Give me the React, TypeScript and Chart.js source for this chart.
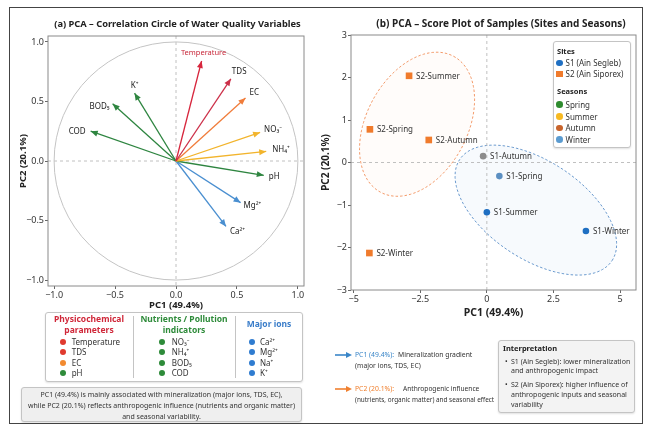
import React, { useEffect, useRef } from "react";
import { Chart, registerables } from "chart.js";
Chart.register(...registerables);

const FONT = "'Noto Sans', 'DejaVu Sans', sans-serif";
Chart.defaults.font.family = FONT;

// ---------- Panel (a): loadings ----------
const variables = ["Temperature", "TDS", "EC", "NO₃⁻", "NH₄⁺", "pH", "Mg²⁺", "Ca²⁺", "K⁺", "BOD₅", "COD"];
const pc1Loadings = [0.21, 0.45, 0.57, 0.69, 0.74, 0.72, 0.53, 0.41, -0.34, -0.52, -0.70];
const pc2Loadings = [0.84, 0.69, 0.53, 0.24, 0.08, -0.12, -0.35, -0.55, 0.57, 0.48, 0.25];
const loadingTicks = [-1, -0.5, 0, 0.5, 1];

// ---------- Panel (b): scores ----------
const samples = ["S1-Autumn", "S1-Spring", "S1-Summer", "S1-Winter", "S2-Summer", "S2-Spring", "S2-Autumn", "S2-Winter"];
const sampleSites = ["S1", "S1", "S1", "S1", "S2", "S2", "S2", "S2"];
const pc1Scores = [-0.14, 0.47, 0.0, 3.72, -2.92, -4.39, -2.18, -4.41];
const pc2Scores = [0.15, -0.32, -1.17, -1.61, 2.04, 0.78, 0.53, -2.13];
const scoreXTicks = [-5, -2.5, 0, 2.5, 5];
const scoreYTicks = [-3, -2, -1, 0, 1, 2, 3];

// Site ellipses (center and semi-axis vectors, in PC units)
const ellipseSites = ["S2", "S1"];
const ellipseCenterPC1 = [-2.62, 1.84];
const ellipseCenterPC2 = [0.9, -1.12];
const ellipseAxisA = [[1.37, 1.6], [2.86, -1.19]];
const ellipseAxisB = [[1.67, -0.56], [1.01, 0.96]];

// Legend contents
const groupTitles = [["Physicochemical", "parameters"], ["Nutrients / Pollution", "indicators"], ["Major ions"]];
const groupItems = [["Temperature", "TDS", "EC", "pH"], ["NO₃⁻", "NH₄⁺", "BOD₅", "COD"], ["Ca²⁺", "Mg²⁺", "Na⁺", "K⁺"]];
const siteNames = ["S1 (Ain Segleb)", "S2 (Ain Siporex)"];
const seasonNames = ["Spring", "Summer", "Autumn", "Winter"];

// ---------- Styles ----------
const varColors = ["#d7263d", "#cc3049", "#f07c3a", "#f2b42c", "#f2b42c", "#2e8540", "#4a8fd0", "#4a8fd0", "#2e8540", "#2e8540", "#2e8540"];
const varLabelPos: { dx: number; dy: number; align: CanvasTextAlign }[] = [
  { dx: 2, dy: -8, align: "center" },
  { dx: 1, dy: -7, align: "left" },
  { dx: 4, dy: -5, align: "left" },
  { dx: 4, dy: -3, align: "left" },
  { dx: 6, dy: -2, align: "left" },
  { dx: 5, dy: 1, align: "left" },
  { dx: 3, dy: 3, align: "left" },
  { dx: 4, dy: 5, align: "left" },
  { dx: 0, dy: -7, align: "center" },
  { dx: -3, dy: 3, align: "right" },
  { dx: -5, dy: 0, align: "right" },
];
const sampleColors = ["#8c8c8c", "#5b8fc2", "#1f6fc2", "#1f6fc2", "#f07b2c", "#f07b2c", "#f07b2c", "#f07b2c"];
const ellipseStroke = ["#f2905a", "#5a8fc8"];
const ellipseFill = ["rgba(250,170,120,0.035)", "rgba(140,180,225,0.07)"];
const groupTitleColors = ["#d0283a", "#2e8b3a", "#3a7dc9"];
const groupItemColors = [["#e03a2f", "#e03a2f", "#f28a30", "#2e8b3a"], ["#2e8b3a", "#2e8b3a", "#2e8b3a", "#2e8b3a"], ["#2f7cd0", "#2f7cd0", "#2f7cd0", "#2f7cd0"]];
const siteColors = ["#1f6fc2", "#f07b2c"];
const seasonColors = ["#2e8b2e", "#f7b921", "#c8642c", "#5a9bd0"];

const fmtMinus = (v: number, d?: number) => (d !== undefined ? v.toFixed(d) : String(v)).replace("-", "−");

function drawZeroLines(chart: any) {
  const { ctx, chartArea, scales } = chart;
  const cx = scales.x.getPixelForValue(0);
  const cy = scales.y.getPixelForValue(0);
  ctx.save();
  ctx.strokeStyle = "#b0b0b0";
  ctx.lineWidth = 0.8;
  ctx.setLineDash([3, 3]);
  ctx.beginPath();
  ctx.moveTo(chartArea.left, cy);
  ctx.lineTo(chartArea.right, cy);
  ctx.moveTo(cx, chartArea.top);
  ctx.lineTo(cx, chartArea.bottom);
  ctx.stroke();
  ctx.restore();
}
function drawFrame(chart: any) {
  const { ctx, chartArea } = chart;
  ctx.save();
  ctx.strokeStyle = "#8a8a8a";
  ctx.lineWidth = 1;
  ctx.strokeRect(chartArea.left, chartArea.top, chartArea.right - chartArea.left, chartArea.bottom - chartArea.top);
  ctx.restore();
}

const panelAPlugin = {
  id: "panelA",
  beforeDatasetsDraw(chart: any) {
    drawZeroLines(chart);
    const { ctx, scales } = chart;
    const cx = scales.x.getPixelForValue(0);
    const cy = scales.y.getPixelForValue(0);
    const rx = scales.x.getPixelForValue(1) - cx;
    const ry = cy - scales.y.getPixelForValue(1);
    ctx.save();
    ctx.strokeStyle = "#c4c4c4";
    ctx.lineWidth = 1;
    ctx.beginPath();
    ctx.ellipse(cx, cy, rx, ry, 0, 0, Math.PI * 2);
    ctx.stroke();
    ctx.restore();
  },
  afterDatasetsDraw(chart: any) {
    const { ctx } = chart;
    ctx.save();
    variables.forEach((name, i) => {
      const meta = chart.getDatasetMeta(i);
      const p0 = meta.data[0];
      const p1 = meta.data[1];
      const ang = Math.atan2(p1.y - p0.y, p1.x - p0.x);
      const L = 7, W = 3;
      ctx.fillStyle = varColors[i];
      ctx.beginPath();
      ctx.moveTo(p1.x, p1.y);
      ctx.lineTo(p1.x - L * Math.cos(ang) + W * Math.sin(ang), p1.y - L * Math.sin(ang) - W * Math.cos(ang));
      ctx.lineTo(p1.x - L * Math.cos(ang) - W * Math.sin(ang), p1.y - L * Math.sin(ang) + W * Math.cos(ang));
      ctx.closePath();
      ctx.fill();
      const lp = varLabelPos[i];
      ctx.font = `${i === 0 ? 7.5 : 8}px ${FONT}`;
      ctx.fillStyle = i === 0 ? "#c8283a" : "#222";
      ctx.textAlign = lp.align;
      ctx.textBaseline = "middle";
      ctx.fillText(name, p1.x + lp.dx, p1.y + lp.dy);
    });
    ctx.restore();
  },
  afterDraw(chart: any) {
    drawFrame(chart);
  },
};

const s1Idx = samples.map((_, i) => i).filter((i) => sampleSites[i] === "S1");
const s2Idx = samples.map((_, i) => i).filter((i) => sampleSites[i] === "S2");

const panelBPlugin = {
  id: "panelB",
  beforeDatasetsDraw(chart: any) {
    const { ctx, scales } = chart;
    ellipseSites.forEach((_, k) => {
      ctx.save();
      ctx.beginPath();
      const n = 120;
      for (let j = 0; j <= n; j++) {
        const t = (j / n) * Math.PI * 2;
        const vx = ellipseCenterPC1[k] + Math.cos(t) * ellipseAxisA[k][0] + Math.sin(t) * ellipseAxisB[k][0];
        const vy = ellipseCenterPC2[k] + Math.cos(t) * ellipseAxisA[k][1] + Math.sin(t) * ellipseAxisB[k][1];
        const px = scales.x.getPixelForValue(vx);
        const py = scales.y.getPixelForValue(vy);
        if (j === 0) ctx.moveTo(px, py);
        else ctx.lineTo(px, py);
      }
      ctx.closePath();
      ctx.fillStyle = ellipseFill[k];
      ctx.fill();
      ctx.setLineDash([2.5, 2]);
      ctx.lineWidth = 0.9;
      ctx.strokeStyle = ellipseStroke[k];
      ctx.stroke();
      ctx.restore();
    });
    drawZeroLines(chart);
  },
  afterDatasetsDraw(chart: any) {
    const { ctx } = chart;
    ctx.save();
    ctx.font = `8px ${FONT}`;
    ctx.fillStyle = "#333";
    ctx.textAlign = "left";
    ctx.textBaseline = "middle";
    [s1Idx, s2Idx].forEach((idx, d) => {
      const meta = chart.getDatasetMeta(d);
      idx.forEach((si, j) => {
        const p = meta.data[j];
        ctx.fillText(samples[si], p.x + 7, p.y + 0.5);
      });
    });
    ctx.restore();
  },
  afterDraw(chart: any) {
    drawFrame(chart);
  },
};

function axisCommon(ticksArr: number[], fmt: (v: number) => string) {
  return {
    type: "linear" as const,
    afterBuildTicks: (s: any) => {
      s.ticks = ticksArr.map((v) => ({ value: v }));
    },
    grid: { drawOnChartArea: false, drawTicks: true, tickLength: 3, color: "#666" },
    border: { display: false },
    ticks: { font: { size: 9 }, color: "#333", padding: 1, callback: (v: any) => fmt(Number(v)) },
  };
}

const PanelA = () => {
  const ref = useRef<HTMLCanvasElement>(null);
  useEffect(() => {
    const chart = new Chart(ref.current!, {
      type: "scatter",
      data: {
        datasets: variables.map((v, i) => ({
          label: v,
          data: [
            { x: 0, y: 0 },
            { x: pc1Loadings[i], y: pc2Loadings[i] },
          ],
          showLine: true,
          borderColor: varColors[i],
          backgroundColor: varColors[i],
          borderWidth: 1.3,
          pointRadius: 0,
          pointHoverRadius: 0,
        })),
      },
      options: {
        responsive: false,
        animation: false,
        events: [],
        layout: { padding: { top: 28, right: 18, bottom: 0, left: 0 } },
        plugins: { legend: { display: false }, tooltip: { enabled: false } },
        scales: {
          x: {
            ...axisCommon(loadingTicks, (v) => fmtMinus(v, 1)),
            min: -1.05,
            max: 1.05,
            afterFit: (s: any) => {
              s.height = 26;
            },
            title: { display: true, text: "PC1 (49.4%)", font: { size: 9.5, weight: "bold" }, color: "#222", padding: { top: 0, bottom: 1 } },
          },
          y: {
            ...axisCommon(loadingTicks, (v) => fmtMinus(v, 1)),
            min: -1.05,
            max: 1.05,
            afterFit: (s: any) => {
              s.width = 38;
            },
            title: { display: true, text: "PC2 (20.1%)", font: { size: 9.5, weight: "bold" }, color: "#222", padding: { top: 8, bottom: 0 } },
          },
        },
      } as any,
      plugins: [panelAPlugin],
    });
    return () => chart.destroy();
  }, []);
  return <canvas ref={ref} width={312} height={304} style={{ position: "absolute", left: 10, top: 8, width: 312, height: 304 }} />;
};

const PanelB = () => {
  const ref = useRef<HTMLCanvasElement>(null);
  useEffect(() => {
    const chart = new Chart(ref.current!, {
      type: "scatter",
      data: {
        datasets: [
          {
            label: siteNames[0],
            data: s1Idx.map((i) => ({ x: pc1Scores[i], y: pc2Scores[i] })),
            pointStyle: "circle",
            pointRadius: 3.3,
            pointBorderWidth: 0,
            pointBackgroundColor: s1Idx.map((i) => sampleColors[i]),
          },
          {
            label: siteNames[1],
            data: s2Idx.map((i) => ({ x: pc1Scores[i], y: pc2Scores[i] })),
            pointStyle: "rect",
            pointRadius: 4.7,
            pointBorderWidth: 0,
            pointBackgroundColor: s2Idx.map((i) => sampleColors[i]),
          },
        ],
      },
      options: {
        responsive: false,
        animation: false,
        events: [],
        layout: { padding: { top: 27, right: 6, bottom: 0, left: 0 } },
        plugins: { legend: { display: false }, tooltip: { enabled: false } },
        scales: {
          x: {
            ...axisCommon(scoreXTicks, (v) => fmtMinus(v)),
            min: -5.1,
            max: 5.6,
            afterFit: (s: any) => {
              s.height = 30;
            },
            title: { display: true, text: "PC1 (49.4%)", font: { size: 10.5, weight: "bold" }, color: "#222", padding: { top: 0, bottom: 1 } },
          },
          y: {
            ...axisCommon(scoreYTicks, (v) => fmtMinus(v)),
            min: -3,
            max: 3,
            afterFit: (s: any) => {
              s.width = 33;
            },
            title: { display: true, text: "PC2 (20.1%)", font: { size: 10, weight: "bold" }, color: "#222", padding: { top: 2, bottom: 0 } },
          },
        },
      } as any,
      plugins: [panelBPlugin],
    });
    return () => chart.destroy();
  }, []);
  return <canvas ref={ref} width={324} height={312} style={{ position: "absolute", left: 318, top: 8, width: 324, height: 312 }} />;
};

type TP = {
  x: number;
  y: number;
  size?: number;
  color?: string;
  bold?: boolean;
  align?: "left" | "center" | "right";
  ls?: number;
  children: React.ReactNode;
};
const T = ({ x, y, size = 8, color = "#333", bold = false, align = "left", ls = 0, children }: TP) => (
  <div
    style={{
      position: "absolute",
      left: x,
      top: y,
      transform: `translate(${align === "left" ? "0" : align === "center" ? "-50%" : "-100%"}, -50%)`,
      fontSize: size,
      color,
      fontWeight: bold ? 700 : 400,
      whiteSpace: "nowrap",
      lineHeight: 1.15,
      letterSpacing: ls,
      fontFamily: FONT,
    }}
  >
    {children}
  </div>
);
const Dot = ({ x, y, r, color, square = false }: { x: number; y: number; r: number; color: string; square?: boolean }) => (
  <div style={{ position: "absolute", left: x - r, top: y - r, width: 2 * r, height: 2 * r, borderRadius: square ? 0 : "50%", background: color }} />
);
const Box = ({ x, y, w, h, bg }: { x: number; y: number; w: number; h: number; bg: string }) => (
  <div
    style={{
      position: "absolute",
      left: x,
      top: y,
      width: w,
      height: h,
      boxSizing: "border-box",
      border: "1px solid #c4c4c4",
      borderRadius: 3,
      background: bg,
      boxShadow: "0 1px 2px rgba(0,0,0,0.12)",
    }}
  />
);
const Arrow = ({ x1, x2, y, color }: { x1: number; x2: number; y: number; color: string }) => (
  <svg style={{ position: "absolute", left: x1, top: y - 4, overflow: "visible" }} width={x2 - x1} height={8}>
    <line x1={0} y1={4} x2={x2 - x1 - 4} y2={4} stroke={color} strokeWidth={1.6} />
    <polygon points={`${x2 - x1},4 ${x2 - x1 - 6},1 ${x2 - x1 - 6},7`} fill={color} />
  </svg>
);

const colCenters = [89, 184, 269];
const colDotX = [63.3, 162.3, 251.7];
const colTextX = [71.7, 171.7, 260];
const rowY = [342, 352.3, 362.6, 373];
const seasonRowY = [104.7, 116.7, 128, 139.7];

export default function App() {
  return (
    <div style={{ position: "absolute", left: 0, top: 0, width: 647, height: 428, background: "#fff", fontFamily: FONT }}>
      <div style={{ position: "absolute", left: 9, top: 7, width: 634, height: 417, boxSizing: "border-box", border: "1px solid #444" }} />
      <PanelA />
      <PanelB />
      <T x={177.5} y={23.5} size={9.3} bold color="#222" align="center">
        (a)  PCA – Correlation Circle of Water Quality Variables
      </T>
      <T x={501} y={23.5} size={10} bold color="#222" align="center">
        (b)  PCA – Score Plot of Samples (Sites and Seasons)
      </T>

      {/* Panel (a) grouped legend */}
      <Box x={45} y={312} w={258} h={70} bg="#fff" />
      <div style={{ position: "absolute", left: 133, top: 316, width: 1, height: 62, background: "#c4c4c4" }} />
      <div style={{ position: "absolute", left: 235, top: 316, width: 1, height: 62, background: "#c4c4c4" }} />
      {groupTitles.map((lines, g) =>
        lines.length === 2 ? (
          <React.Fragment key={g}>
            <T x={colCenters[g]} y={319.3} size={8.5} bold color={groupTitleColors[g]} align="center">
              {lines[0]}
            </T>
            <T x={colCenters[g]} y={330} size={8.5} bold color={groupTitleColors[g]} align="center">
              {lines[1]}
            </T>
          </React.Fragment>
        ) : (
          <T key={g} x={colCenters[g]} y={324} size={8.5} bold color={groupTitleColors[g]} align="center">
            {lines[0]}
          </T>
        )
      )}
      {groupItems.map((items, g) =>
        items.map((it, r) => (
          <React.Fragment key={`${g}-${r}`}>
            <Dot x={colDotX[g]} y={rowY[r]} r={3} color={groupItemColors[g][r]} />
            <T x={colTextX[g]} y={rowY[r]} size={8}>
              {it}
            </T>
          </React.Fragment>
        ))
      )}

      {/* Panel (a) note */}
      <Box x={21} y={387} w={281} h={35} bg="#efefef" />
      <T x={161.5} y={394.5} size={7} align="center">
        PC1 (49.4%) is mainly associated with mineralization (major ions, TDS, EC),
      </T>
      <T x={161.5} y={405.5} size={7} align="center">
        while PC2 (20.1%) reflects anthropogenic influence (nutrients and organic matter)
      </T>
      <T x={161.5} y={416.5} size={7} align="center">
        and seasonal variability.
      </T>

      {/* Panel (b) legend */}
      <Box x={553} y={41} w={78} h={107} bg="#fff" />
      <T x={557} y={51} size={7.5} bold color="#222">
        Sites
      </T>
      <Dot x={559.5} y={63} r={3.3} color={siteColors[0]} />
      <T x={565.5} y={63} size={8}>
        {siteNames[0]}
      </T>
      <Dot x={559.5} y={74} r={3.3} color={siteColors[1]} square />
      <T x={565.5} y={74} size={8}>
        {siteNames[1]}
      </T>
      <T x={557} y={90.7} size={7.5} bold color="#222">
        Seasons
      </T>
      {seasonNames.map((s, i) => (
        <React.Fragment key={s}>
          <Dot x={559.5} y={seasonRowY[i]} r={3.3} color={seasonColors[i]} />
          <T x={565.5} y={seasonRowY[i]} size={8}>
            {s}
          </T>
        </React.Fragment>
      ))}

      {/* Panel (b) axis key */}
      <Arrow x1={335} x2={352} y={355} color="#3a86c8" />
      <T x={355} y={355} size={6.8} color="#3a86c8">
        PC1 (49.4%):
      </T>
      <T x={398} y={355} size={6.8}>
        Mineralization gradient
      </T>
      <T x={355} y={365.5} size={6.8}>
        (major ions, TDS, EC)
      </T>
      <Arrow x1={335} x2={352} y={388.5} color="#f08030" />
      <T x={355} y={388.5} size={6.8} color="#f08030">
        PC2 (20.1%):
      </T>
      <T x={403} y={388.5} size={6.6}>
        Anthropogenic influence
      </T>
      <T x={355} y={399.5} size={6.4}>
        (nutrients, organic matter) and seasonal effect
      </T>

      {/* Interpretation box */}
      <Box x={498} y={340} w={137} h={73} bg="#f3f3f3" />
      <T x={503} y={348.3} size={7.5} bold color="#222">
        Interpretation
      </T>
      <T x={505} y={361.7} size={7}>•</T>
      <T x={511} y={361.7} size={7}>
        S1 (Ain Segleb): lower mineralization
      </T>
      <T x={511} y={371.2} size={7}>
        and anthropogenic impact
      </T>
      <T x={505} y={385} size={7}>•</T>
      <T x={511} y={385} size={7}>
        S2 (Ain Siporex): higher influence of
      </T>
      <T x={511} y={394.5} size={7}>
        anthropogenic inputs and seasonal
      </T>
      <T x={511} y={404.5} size={7}>
        variability
      </T>
    </div>
  );
}
